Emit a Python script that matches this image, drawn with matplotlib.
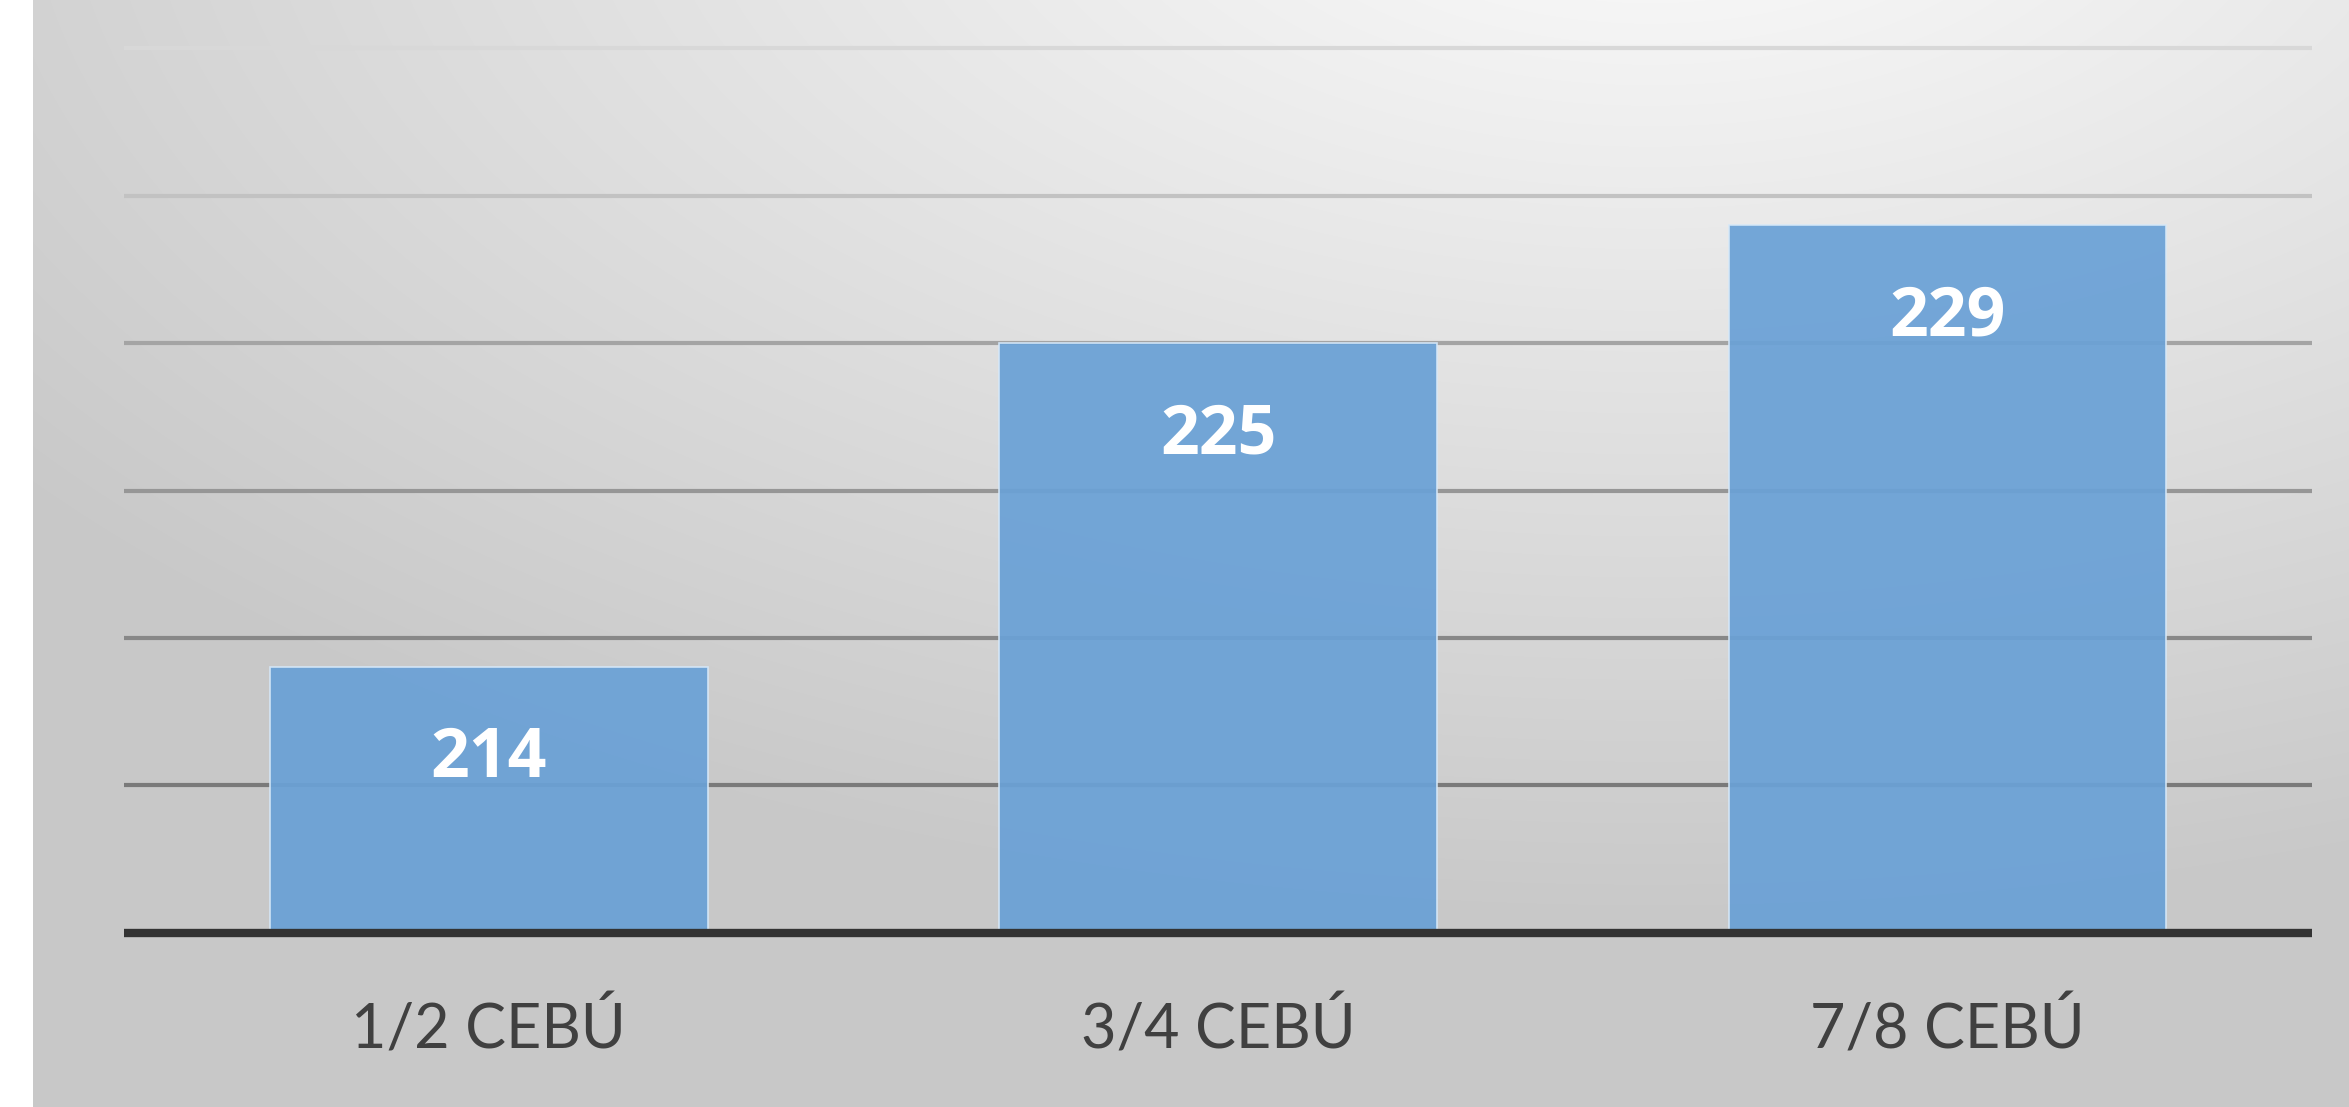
import numpy as np
import matplotlib
matplotlib.use('Agg')
import matplotlib.pyplot as plt

# Дані
categories = ['1/2 CEBÚ', '3/4 CEBÚ', '7/8 CEBÚ']
values = [214, 225, 229]
y_ticks = [210, 215, 220, 225, 230, 235]
grid_colors = ['#7a7a7a', '#888888', '#969696', '#a4a4a4', '#c2c2c2', '#d8d8d8']

plt.rcParams['font.family'] = ['Lato', 'DejaVu Sans']

fig = plt.figure(figsize=(23.49, 11.07), dpi=100)

# фон: радіальний градієнт
bg = fig.add_axes([0, 0, 1, 1], zorder=-10)
h, w = 1107, 2349
yy, xx = np.mgrid[0:h, 0:w]
r = np.sqrt(((xx - 1650) / 2200.0) ** 2 + ((yy + 150) / 1150.0) ** 2)
shade = np.clip(0.99 - 0.22 * r, 0.785, 1.0)
shade[:, :33] = 1.0
img = np.dstack([shade, shade, shade])
bg.imshow(img, aspect='auto', extent=[0, 1, 0, 1], origin='upper')
bg.axis('off')

ax = fig.add_axes([0.0528, 0.1572, 0.9315, 0.7994])
ax.patch.set_alpha(0)

x = np.arange(len(categories))
for t, c in zip(y_ticks, grid_colors):
    ax.axhline(t, color=c, linewidth=3.0, zorder=1, clip_on=False,
               solid_capstyle='butt')

bars = ax.bar(x, values, width=0.6, bottom=0, color='#6aa1d6', alpha=0.93,
              edgecolor='#d6e8f8', linewidth=1.2, zorder=2)
ax.axhline(205, color='#333333', linewidth=6.0, zorder=3, clip_on=False,
           solid_capstyle='butt')

for xi, v in zip(x, values):
    ax.annotate(str(v), (xi, v), xytext=(0, -92), textcoords='offset pixels',
                ha='center', va='center', color='white', fontsize=49,
                fontweight='bold', family=['Open Sans', 'DejaVu Sans'], zorder=4)

ax.set_xlim(-0.5, 2.5)
ax.set_ylim(205, 235)
ax.set_xticks(x)
ax.set_xticklabels(categories, fontsize=44, color='#404040')
ax.tick_params(axis='x', length=0, pad=48)
ax.set_yticks([])
for s in ax.spines.values():
    s.set_visible(False)

fig.savefig('out.png', dpi=100)
